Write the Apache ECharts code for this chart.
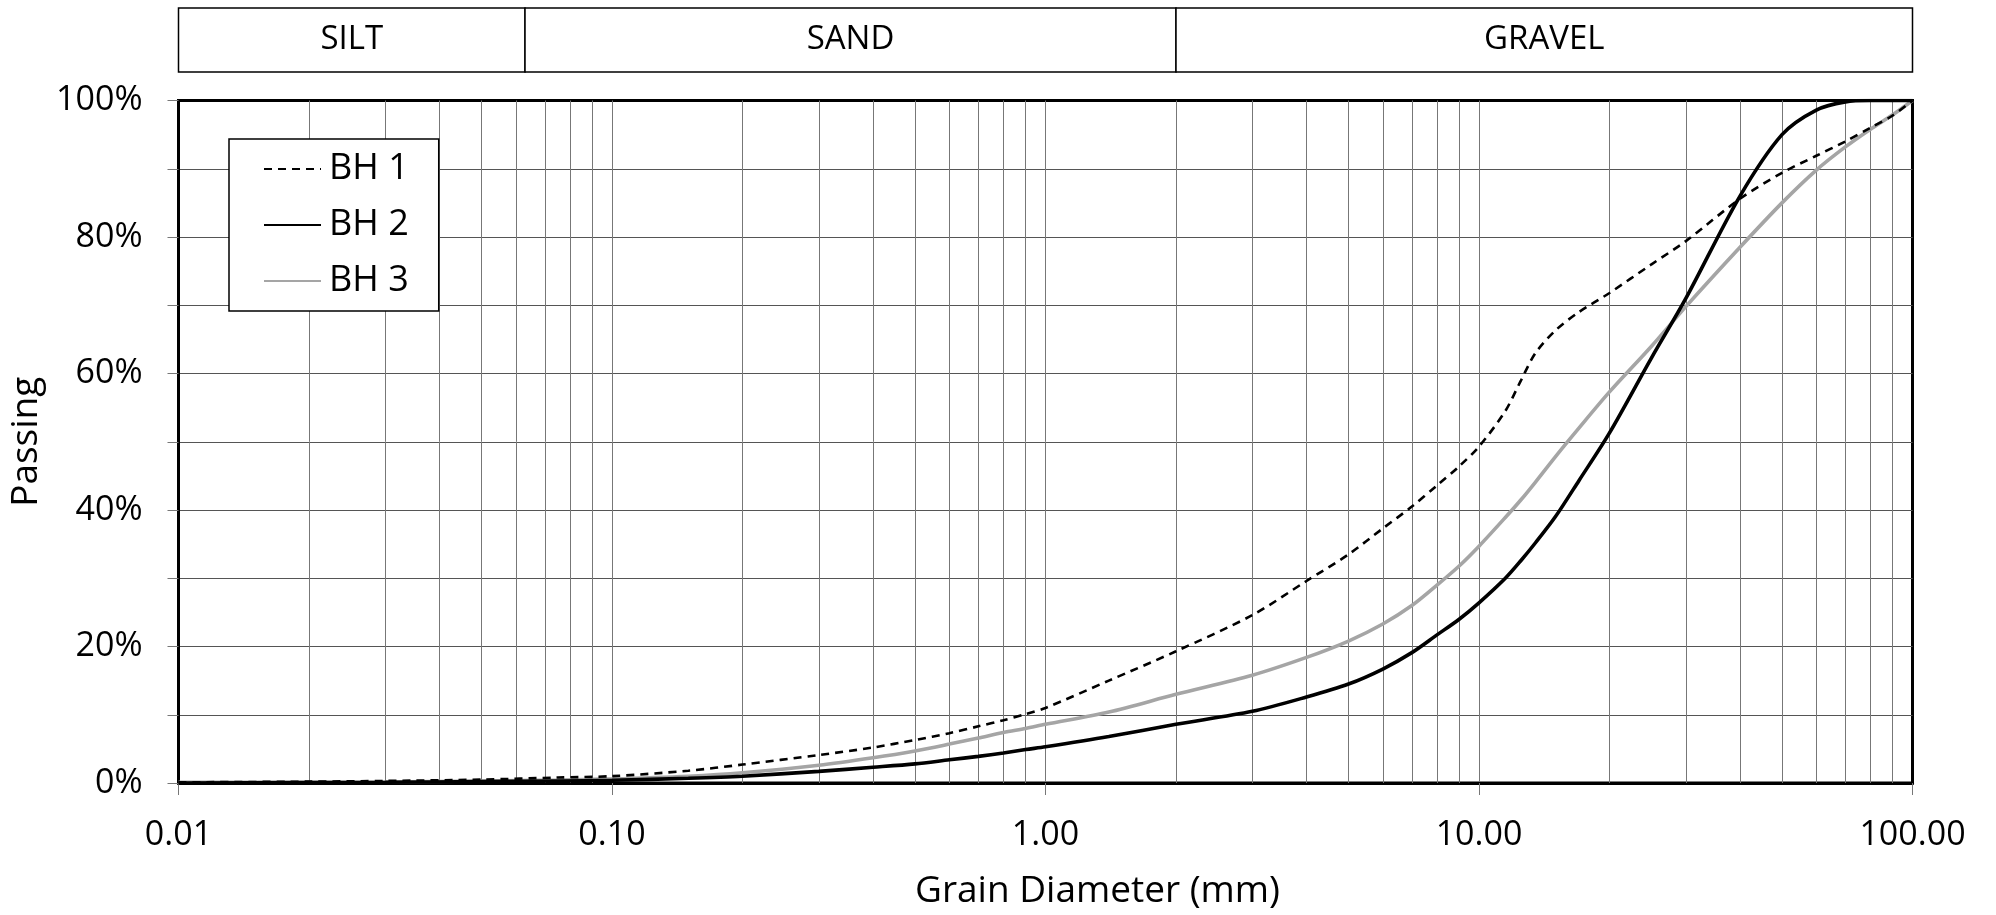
<!DOCTYPE html>
<html>
<head>
<meta charset="utf-8">
<script src="https://cdn.jsdelivr.net/npm/echarts@6/dist/echarts.min.js"></script>
<style>
  html, body { margin: 0; padding: 0; background: #fff; }
  #chart { width: 1996px; height: 915px; }
</style>
</head>
<body>
<div id="chart"></div>
<script>
// ---- Data ----
const sizes = [0.01, 0.02, 0.03, 0.05, 0.075, 0.1, 0.15, 0.2, 0.3, 0.4, 0.5, 0.6, 0.7, 0.8, 0.9, 1, 1.4, 2, 3, 4, 5, 6, 7, 8, 9, 10, 11.5, 12.5, 13.5, 15, 17, 20, 25, 30, 40, 50, 60, 70, 80, 90, 100];
const bh1 = [0.1, 0.2, 0.3, 0.5, 0.8, 1.0, 1.8, 2.7, 4.1, 5.2, 6.3, 7.3, 8.3, 9.2, 10.1, 11.0, 15.0, 19.3, 24.6, 29.6, 33.5, 37.3, 40.5, 43.6, 46.4, 49.3, 54.5, 59.0, 63.0, 66.3, 69.0, 71.8, 76.0, 79.4, 85.6, 89.4, 91.9, 94.0, 96.0, 97.8, 100];
const bh2 = [0.0, 0.05, 0.1, 0.2, 0.3, 0.4, 0.7, 1.0, 1.7, 2.3, 2.8, 3.4, 3.9, 4.4, 4.9, 5.3, 6.8, 8.6, 10.5, 12.6, 14.5, 16.7, 19.1, 21.7, 24.0, 26.4, 30.0, 32.6, 35.2, 39.0, 44.3, 51.3, 62.3, 71.0, 86.0, 95.0, 98.6, 99.8, 100, 100, 100];
const bh3 = [0.1, 0.1, 0.15, 0.3, 0.45, 0.6, 1.0, 1.5, 2.6, 3.7, 4.7, 5.7, 6.6, 7.4, 8.0, 8.6, 10.4, 13.0, 15.8, 18.4, 20.8, 23.3, 26.0, 29.0, 31.8, 34.7, 38.9, 41.5, 44.1, 47.8, 52.0, 57.3, 64.0, 69.8, 78.5, 85.0, 89.8, 93.2, 95.8, 97.9, 100];
const seriesNames = ['BH 1', 'BH 2', 'BH 3'];
const zoneNames = ['SILT', 'SAND', 'GRAVEL'];
const zoneBounds = [0.01, 0.063, 2, 100];
const minorGrid = [0.02, 0.03, 0.04, 0.05, 0.06, 0.07, 0.08, 0.09,
                   0.2, 0.3, 0.4, 0.5, 0.6, 0.7, 0.8, 0.9,
                   2, 3, 4, 5, 6, 7, 8, 9,
                   20, 30, 40, 50, 60, 70, 80, 90];
const xTitle = 'Grain Diameter (mm)';
const yTitle = 'Passing';

// ---- Chart ----
const FONT = '"Open Sans", "Noto Sans", sans-serif';
const chart = echarts.init(document.getElementById('chart'), null, { renderer: 'canvas' });
const pairs = arr => sizes.map((s, i) => [s, arr[i]]);
const zoneData = zoneNames.map((n, i) => [zoneBounds[i], zoneBounds[i + 1], i]);

const option = {
  backgroundColor: '#fff',
  animation: false,
  textStyle: { fontFamily: FONT, color: '#000' },
  grid: [
    { left: 178.5, right: 83.5, top: 100.5, bottom: 131.3, show: true, borderColor: '#000', borderWidth: 3, containLabel: false },
    { left: 178.5, right: 83.5, top: 8, height: 64, show: false }
  ],
  xAxis: [
    {
      gridIndex: 0, type: 'log', logBase: 10, min: 0.01, max: 100,
      name: xTitle, nameLocation: 'middle', nameGap: 90,
      nameTextStyle: { fontSize: 37, color: '#000', fontFamily: FONT, padding: [0, 0, 0, 104] },
      axisLine: { show: true, lineStyle: { color: '#000', width: 3 } },
      axisTick: { show: true, length: 12, inside: false, lineStyle: { color: '#777', width: 1 } },
      axisLabel: { fontSize: 34, color: '#000', margin: 35, fontFamily: FONT,
                   formatter: v => Number(v).toFixed(2) },
      splitLine: { show: true, showMinLine: false, showMaxLine: false, lineStyle: { color: '#777', width: 1 } },
      minorTick: { show: false }
    },
    { gridIndex: 1, type: 'log', logBase: 10, min: 0.01, max: 100, show: false }
  ],
  yAxis: [
    {
      gridIndex: 0, type: 'value', min: 0, max: 100, interval: 10,
      name: yTitle, nameLocation: 'middle', nameGap: 115, nameRotate: 90,
      nameTextStyle: { fontSize: 37, color: '#000', fontFamily: FONT },
      axisLine: { show: true, lineStyle: { color: '#000', width: 3 } },
      axisTick: { show: true, length: 11, inside: false, lineStyle: { color: '#777', width: 1 } },
      axisLabel: { fontSize: 34, color: '#000', margin: 36, fontFamily: FONT,
                   formatter: v => (v % 20 === 0 ? v + '%' : '') },
      splitLine: { show: true, showMinLine: false, showMaxLine: false, lineStyle: { color: '#555', width: 1 } }
    },
    { gridIndex: 1, type: 'value', min: 0, max: 1, show: false }
  ],
  legend: {
    data: seriesNames,
    orient: 'vertical',
    left: 229, top: 139,
    padding: [12, 30, 12, 34],
    itemWidth: 57, itemHeight: 20, itemGap: 20,
    backgroundColor: '#fff', borderColor: '#000', borderWidth: 1.5, borderRadius: 0,
    itemStyle: { opacity: 0 },
    textStyle: { fontSize: 36, color: '#000', fontFamily: FONT, lineHeight: 36, padding: [0, 0, 0, 3] },
    selectedMode: false
  },
  series: [
    {
      name: 'grid-minor', type: 'line', xAxisIndex: 0, yAxisIndex: 0, data: [], silent: true,
      markLine: {
        silent: true, symbol: ['none', 'none'], z: 1,
        label: { show: false },
        lineStyle: { color: '#777', width: 1, type: 'solid' },
        emphasis: { disabled: true },
        data: minorGrid.map(v => ({ xAxis: v }))
      }
    },
    {
      name: seriesNames[0], type: 'line', data: pairs(bh1), symbol: 'none', showSymbol: false,
      smooth: 0.3, z: 4,
      lineStyle: { color: '#000', width: 2.6, type: [8, 6] }, itemStyle: { color: '#000' }
    },
    {
      name: seriesNames[1], type: 'line', data: pairs(bh2), symbol: 'none', showSymbol: false,
      smooth: 0.3, z: 4,
      lineStyle: { color: '#000', width: 3.6 }, itemStyle: { color: '#000' }
    },
    {
      name: seriesNames[2], type: 'line', data: pairs(bh3), symbol: 'none', showSymbol: false,
      smooth: 0.3, z: 3,
      lineStyle: { color: '#a5a5a5', width: 3.6 }, itemStyle: { color: '#a5a5a5' }
    },
    {
      name: 'zones', type: 'custom', xAxisIndex: 1, yAxisIndex: 1, silent: true,
      data: zoneData,
      renderItem: function (params, api) {
        const p0 = api.coord([api.value(0), 0]);
        const p1 = api.coord([api.value(1), 1]);
        const idx = api.value(2);
        return {
          type: 'rect',
          shape: { x: p0[0], y: p1[1], width: p1[0] - p0[0], height: p0[1] - p1[1] },
          style: { fill: '#fff', stroke: '#000', lineWidth: 1.5 },
          textContent: { style: { text: zoneNames[idx], fontSize: 33, fontFamily: FONT, fill: '#000' } },
          textConfig: { position: 'inside' }
        };
      }
    }
  ]
};
chart.setOption(option);
</script>
</body>
</html>
